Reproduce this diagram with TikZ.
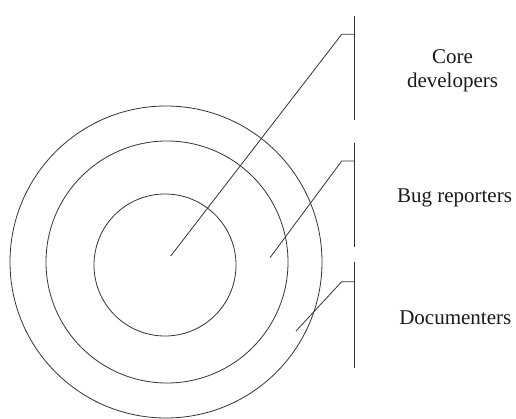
\documentclass[tikz,border=0pt]{standalone}
\usepackage{fontspec}
\setmainfont{Liberation Serif}
\begin{document}
\begin{tikzpicture}[x=1pt,y=-1pt]
\tikzset{
  ring/.style={circle, draw=black!80, inner sep=0pt, line width=0.8pt},
  lead/.style={draw=black!80, line width=0.8pt},
  lbl/.style={font=\fontsize{21}{24}\selectfont, align=center, text=black!90, inner sep=0pt}
}
\useasboundingbox (0,0) rectangle (516,419);
% rings
\node[ring, minimum size=312pt] (outer) at (166,262) {};
\node[ring, minimum size=242pt] (middle) at (167,262) {};
\node[ring, minimum size=142pt] (inner) at (165,265) {};
% bars
\coordinate (b1t) at (354.5,15.7);
\coordinate (b1b) at (354.5,120);
\coordinate (b2t) at (354.5,142.7);
\coordinate (b2b) at (354.5,247.3);
\coordinate (b3t) at (354.5,262.3);
\coordinate (b3b) at (354.5,367.7);
\draw[lead] (b1t) -- (b1b);
\draw[lead] (b2t) -- (b2b);
\draw[lead] (b3t) -- (b3b);
% leaders
\coordinate (p1) at (170.7,256);
\coordinate (k1) at (341.7,34.3);
\coordinate (e1) at (354.5,34.3);
\coordinate (p2) at (270,257.7);
\coordinate (k2) at (341.7,161);
\coordinate (e2) at (354.5,161);
\coordinate (p3) at (296,331);
\coordinate (k3) at (341.7,281.7);
\coordinate (e3) at (354.5,281.7);
\draw[lead] (p1) -- (k1) -- (e1);
\draw[lead] (p2) -- (k2) -- (e2);
\draw[lead] (p3) -- (k3) -- (e3);
% labels
\node[lbl] (core) at (452.5,71) {Core\\developers};
\node[lbl] (bug) at (454.5,198) {Bug reporters};
\node[lbl] (doc) at (455.3,318) {Documenters};
\end{tikzpicture}
\end{document}
